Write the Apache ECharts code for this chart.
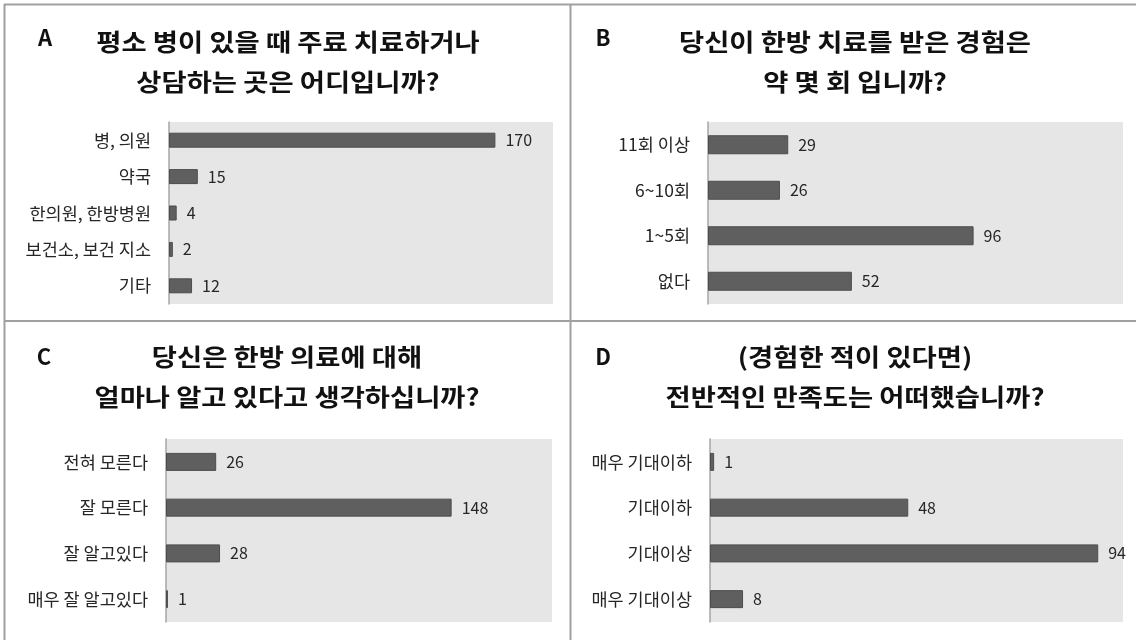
<!DOCTYPE html>
<html><head><meta charset="utf-8">
<script src="https://cdn.jsdelivr.net/npm/echarts@6/dist/echarts.min.js"></script>
<style>html,body{margin:0;padding:0;background:#fff}#c{width:1136px;height:640px}</style>
</head><body><div id="c"></div>
<script>
const catsA = ['병, 의원','약국','한의원, 한방병원','보건소, 보건 지소','기타'];
const valsA = [170, 15, 4, 2, 12];
const catsB = ['11회 이상','6~10회','1~5회','없다'];
const valsB = [29, 26, 96, 52];
const catsC = ['전혀 모른다','잘 모른다','잘 알고있다','매우 잘 알고있다'];
const valsC = [26, 148, 28, 1];
const catsD = ['매우 기대이하','기대이하','기대이상','매우 기대이상'];
const valsD = [1, 48, 94, 8];
const maxes = [200, 150, 200, 100];
const letters = ['A','B','C','D'];
const titles = [
  '평소 병이 있을 때 주료 치료하거나\n상담하는 곳은 어디입니까?',
  '당신이 한방 치료를 받은 경험은\n약 몇 회 입니까?',
  '당신은 한방 의료에 대해\n얼마나 알고 있다고 생각하십니까?',
  '(경험한 적이 있다면)\n전반적인 만족도는 어떠했습니까?'
];

const FONT = '"Noto Sans CJK KR", "Noto Sans", sans-serif';
const cats = [catsA, catsB, catsC, catsD];
const vals = [valsA, valsB, valsC, valsD];
const grids = [
  {left: 169, top: 122, width: 384, height: 182},
  {left: 708, top: 122, width: 415, height: 182},
  {left: 166, top: 439, width: 386, height: 183},
  {left: 710, top: 439, width: 413, height: 183}
];
const barW = [15, 19, 18, 18];
const titlePos = [{x: 288, y: 22}, {x: 855, y: 22}, {x: 287, y: 337}, {x: 855, y: 337}];
const letterPos = [{x: 45, y: 38}, {x: 603, y: 38}, {x: 44, y: 357}, {x: 603, y: 357}];

const option = {
  backgroundColor: '#fff',
  animation: false,
  grid: grids.map(g => Object.assign({show: true, backgroundColor: '#e6e6e6', borderWidth: 0}, g)),
  xAxis: maxes.map((m, i) => ({type: 'value', gridIndex: i, min: 0, max: m, show: false})),
  yAxis: cats.map((c, i) => ({
    type: 'category', gridIndex: i, data: c, inverse: true,
    axisLine: {show: true, lineStyle: {color: '#a6a6a6', width: 1.5}},
    axisTick: {show: false},
    axisLabel: {margin: 18, fontSize: 17.5, color: '#262626', fontFamily: FONT},
    splitLine: {show: false}
  })),
  series: vals.map((v, i) => ({
    type: 'bar', xAxisIndex: i, yAxisIndex: i, data: v, barWidth: barW[i],
    itemStyle: {color: '#5f5f5f', borderColor: '#4d4d4d', borderWidth: 1},
    label: {show: true, position: 'right', distance: 10, fontSize: 16, color: '#262626', fontFamily: FONT}
  })),
  graphic: [].concat(
    [
      {type: 'line', shape: {x1: 4, y1: 4.5, x2: 1136, y2: 4.5}, style: {stroke: '#a0a0a0', lineWidth: 2}},
      {type: 'line', shape: {x1: 4.5, y1: 4, x2: 4.5, y2: 640}, style: {stroke: '#a0a0a0', lineWidth: 2}},
      {type: 'line', shape: {x1: 570.5, y1: 4, x2: 570.5, y2: 640}, style: {stroke: '#a0a0a0', lineWidth: 2}},
      {type: 'line', shape: {x1: 4, y1: 321, x2: 1136, y2: 321}, style: {stroke: '#a0a0a0', lineWidth: 2}}
    ],
    titles.map((t, i) => ({
      type: 'text', x: titlePos[i].x, y: titlePos[i].y, scaleX: 1.14,
      style: {text: t, fontSize: 24, fontWeight: 'bold', fill: '#111', fontFamily: FONT,
              align: 'center', verticalAlign: 'top', lineHeight: 40}
    })),
    letters.map((l, i) => ({
      type: 'text', x: letterPos[i].x, y: letterPos[i].y,
      style: {text: l, fontSize: 22, fontWeight: 'bold', fill: '#111', fontFamily: FONT,
              align: 'center', verticalAlign: 'middle'}
    }))
  )
};
const chart = echarts.init(document.getElementById('c'), null, {renderer: 'canvas'});
chart.setOption(option);
</script></body></html>
